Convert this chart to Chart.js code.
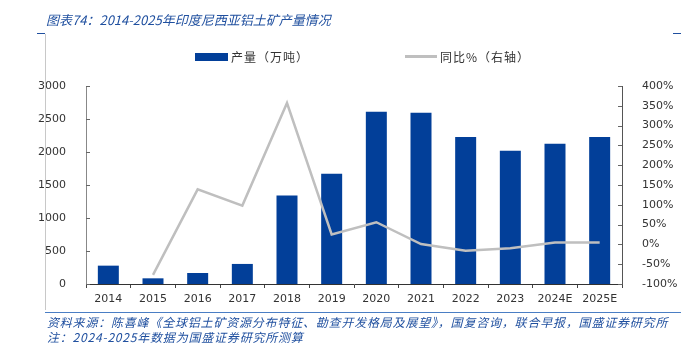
<!DOCTYPE html>
<html>
<head>
<meta charset="utf-8">
<script src="https://cdn.jsdelivr.net/npm/chart.js@4"></script>
<style>
body{margin:0;background:#fff;}
#wrap{position:relative;width:686px;height:343px;overflow:hidden;font-family:"Noto Sans CJK SC",sans-serif;}
#c{position:absolute;left:0;top:0;}
.title{position:absolute;left:46px;top:10px;font-size:13px;color:#1f4f9f;font-style:italic;white-space:nowrap;}
.note{position:absolute;left:47px;font-size:12px;color:#1f4f9f;font-style:italic;white-space:nowrap;letter-spacing:0.8px;}
.vline{position:absolute;left:45px;top:34px;width:1px;height:276px;background:#c8c8c8;}
.tick{position:absolute;top:33px;height:1px;background:#1f4f9f;}
.hline{position:absolute;left:45px;top:312px;width:636px;height:1px;background:#4a7ec4;}
.lg{position:absolute;top:48px;font-size:12px;color:#333;white-space:nowrap;display:flex;align-items:center;letter-spacing:1px;}
.lg i{display:inline-block;margin-right:3px;}
</style>
</head>
<body>
<div id="wrap">
<canvas id="c" width="686" height="343"></canvas>
<div class="title">图表74：2014-2025年印度尼西亚铝土矿产量情况</div>
<div class="vline"></div>
<div class="tick" style="left:37px;width:8px"></div>
<div class="tick" style="left:673px;width:8px"></div>
<div class="hline"></div>
<div class="lg" style="left:195px"><i style="width:33px;height:8px;background:#023f99"></i>产量（万吨）</div>
<div class="lg" style="left:405px"><i style="width:32px;height:3px;background:#bfbfbf"></i>同比%（右轴）</div>
<div class="note" style="top:313px">资料来源：陈喜峰《全球铝土矿资源分布特征、勘查开发格局及展望》，国复咨询，联合早报，国盛证券研究所</div>
<div class="note" style="top:328px">注：2024-2025年数据为国盛证券研究所测算</div>
</div>
<script>
const years=['2014','2015','2016','2017','2018','2019','2020','2021','2022','2023','2024E','2025E'];
const output=[278,86,167,304,1341,1670,2610,2595,2226,2018,2125,2226];
const yoy=[null,-77,139,98,357,25,56,1,-16,-10,5,5];

const tickFont={family:'DejaVu Sans',size:11};
const innerTicks={
  id:'innerTicks',
  afterDraw(chart){
    const ctx=chart.ctx,a=chart.chartArea;
    ctx.save();ctx.strokeStyle='#666';ctx.lineWidth=1;
    chart.scales.y.ticks.forEach(t=>{
      const y=Math.round(chart.scales.y.getPixelForValue(t.value))+0.5;
      ctx.beginPath();ctx.moveTo(a.left,y);ctx.lineTo(a.left+4,y);ctx.stroke();
    });
    chart.scales.y1.ticks.forEach(t=>{
      const y=Math.round(chart.scales.y1.getPixelForValue(t.value))+0.5;
      ctx.beginPath();ctx.moveTo(a.right,y);ctx.lineTo(a.right-4,y);ctx.stroke();
    });
    ctx.restore();
  }
};

new Chart(document.getElementById('c'),{
  data:{labels:years,datasets:[
    {type:'line',label:'同比%（右轴）',data:yoy,yAxisID:'y1',borderColor:'#bfbfbf',borderWidth:2.5,pointRadius:0,tension:0,order:0},
    {type:'bar',label:'产量（万吨）',data:output,yAxisID:'y',backgroundColor:'#023f99',barPercentage:0.47,categoryPercentage:1,order:1}
  ]},
  options:{
    responsive:false,animation:false,
    layout:{padding:{left:0,right:0,top:86,bottom:0}},
    plugins:{legend:{display:false},tooltip:{enabled:false}},
    scales:{
      x:{
        grid:{drawOnChartArea:false,tickLength:4,color:'#444'},
        border:{color:'#333'},
        ticks:{font:tickFont,color:'#333',padding:5,maxRotation:0,autoSkip:false},
        afterFit(s){s.height=59;}
      },
      y:{
        position:'left',min:0,max:3000,
        grid:{display:false},
        border:{color:'#888'},
        ticks:{stepSize:500,font:tickFont,color:'#333',padding:12,callback:v=>String(v)},
        afterFit(s){s.width=86;}
      },
      y1:{
        position:'right',min:-100,max:400,
        grid:{display:false},
        border:{color:'#555'},
        ticks:{stepSize:50,font:tickFont,color:'#333',padding:12,callback:v=>v+'%'},
        afterFit(s){s.width=64;}
      }
    }
  },
  plugins:[innerTicks]
});
</script>
</body>
</html>
